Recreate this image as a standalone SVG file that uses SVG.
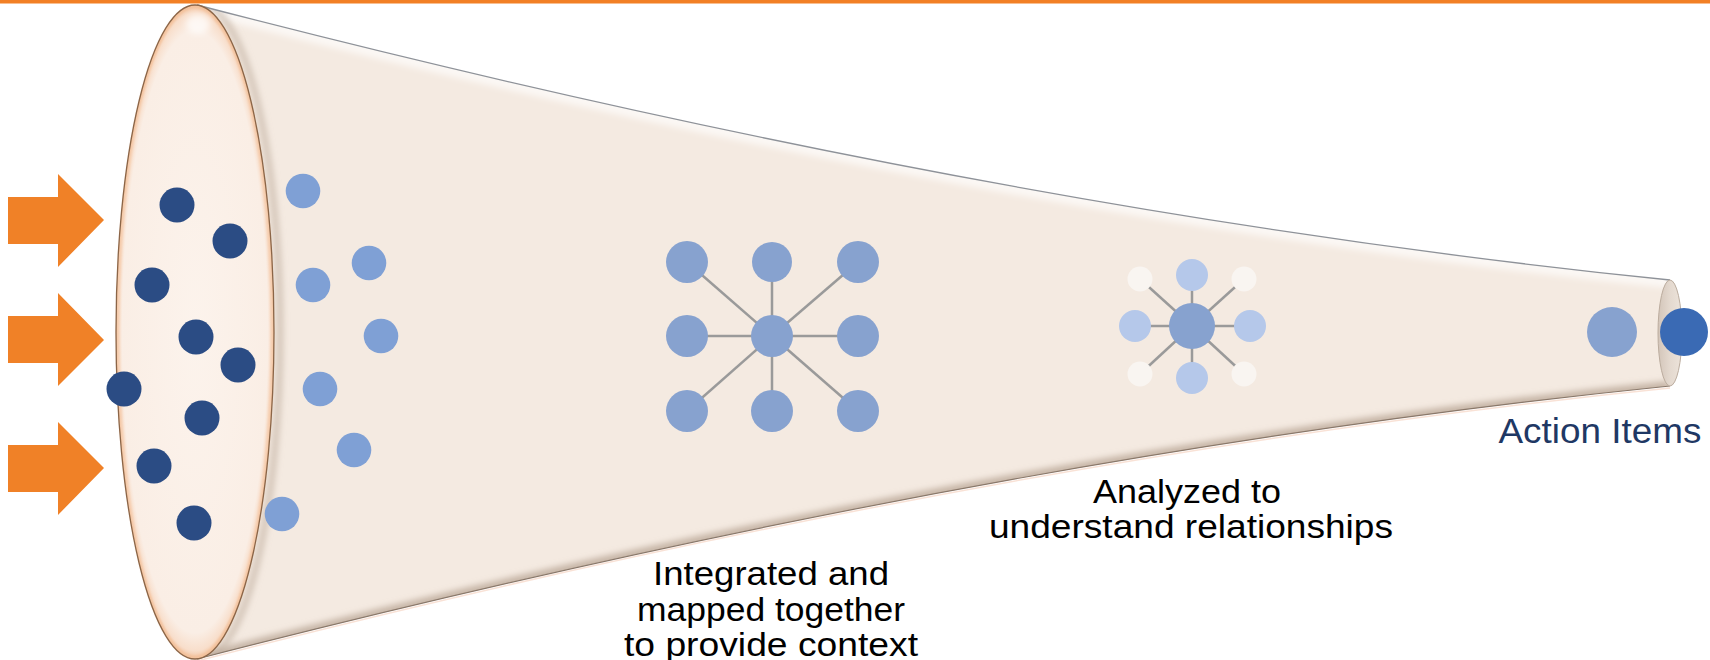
<svg xmlns="http://www.w3.org/2000/svg" width="1710" height="660" viewBox="0 0 1710 660">
  <defs>
    <style>
      .arrow { fill: #F08127; }
      .dark { fill: #2B4C84; }
      .light { fill: #7FA0D5; }
      .node { fill: #87A2CF; }
      .node2 { fill: #B5C8EA; }
      .node3 { fill: #F9F5F1; }
      .link { stroke: #9A9A9A; stroke-width: 2.5; fill: none; }
      .label { font-family: "Liberation Sans", Arial, sans-serif; font-size: 33px; fill: #000000; text-anchor: middle; }
      .action { font-family: "Liberation Sans", Arial, sans-serif; font-size: 35px; fill: #1F3864; text-anchor: middle; }
    </style>
    <radialGradient id="faceGrad" cx="0.5" cy="0.5" r="0.5">
      <stop offset="0" stop-color="#FCF3EC"/>
      <stop offset="0.92" stop-color="#FAEEE5"/>
      <stop offset="0.975" stop-color="#F8DECB"/>
      <stop offset="1" stop-color="#F2C29E"/>
    </radialGradient>
    <linearGradient id="endGrad" x1="0" y1="0" x2="1" y2="0">
      <stop offset="0" stop-color="#D3C5B9"/>
      <stop offset="0.5" stop-color="#E4D9CF"/>
      <stop offset="1" stop-color="#EDE4DB"/>
    </linearGradient>
    <filter id="blur3" x="-20%" y="-20%" width="140%" height="140%">
      <feGaussianBlur stdDeviation="3"/>
    </filter>
    <filter id="blur1" x="-20%" y="-20%" width="140%" height="140%">
      <feGaussianBlur stdDeviation="1.2"/>
    </filter>
    <clipPath id="bodyClip">
      <path d="M197,5 Q989,211 1670,280 L1670,386 Q989,455 197,659 Z"/>
    </clipPath>
  </defs>

  <rect x="0" y="0" width="1710" height="660" fill="#FFFFFF"/>
  <rect id="topbar" x="0" y="0" width="1710" height="3.5" fill="#F28025"/>

  <g id="arrows">
    <polygon class="arrow" points="8,197 58,197 58,174 104,220 58,267 58,244 8,244"/>
    <polygon class="arrow" points="8,316 58,316 58,293 104,340 58,386 58,363 8,363"/>
    <polygon class="arrow" points="8,445 58,445 58,422 104,468 58,515 58,492 8,492"/>
  </g>

  <g id="funnel">
    <path d="M197,5 Q989,211 1670,280 L1670,386 Q989,455 197,659 Z" fill="#F4EAE1"/>
    <g clip-path="url(#bodyClip)">
      <path d="M197,5 Q989,211 1670,280" fill="none" stroke="#FFFFFF" stroke-opacity="0.65" stroke-width="16" filter="url(#blur3)"/>
      <path d="M197,659 Q989,455 1670,386" fill="none" stroke="#B5A292" stroke-opacity="0.75" stroke-width="10" filter="url(#blur3)"/>
      <ellipse cx="201" cy="332" rx="79" ry="327" fill="none" stroke="#B9A696" stroke-opacity="0.6" stroke-width="6" filter="url(#blur3)"/>
    </g>
    <path d="M197,5 Q989,211 1670,280" fill="none" stroke="#8E9299" stroke-width="1.3"/>
    <path d="M197,659 Q989,455 1670,386" fill="none" stroke="#8A786A" stroke-width="1.2"/>
    <path d="M197,661 Q989,457 1670,388" fill="none" stroke="#F6D6C4" stroke-width="1.5" stroke-opacity="0.7"/>
    <ellipse id="end-face" cx="1670" cy="333" rx="12" ry="53" fill="url(#endGrad)" stroke="#BBAC9E" stroke-width="1"/>
  </g>

  <g id="mouth">
    <ellipse cx="195" cy="332" rx="79" ry="327" fill="url(#faceGrad)"/>
    <ellipse cx="195" cy="332" rx="77" ry="325" fill="none" stroke="#F3B78A" stroke-opacity="0.5" stroke-width="2.5" filter="url(#blur1)"/>
    <ellipse cx="198" cy="24" rx="12" ry="10" fill="#FFFFFF" fill-opacity="0.7" filter="url(#blur3)"/>
    <ellipse cx="195" cy="332" rx="79" ry="327" fill="none" stroke="#8B6547" stroke-width="1.3"/>
  </g>

  <g id="raw-data">
    <circle class="dark" cx="177" cy="205" r="17.5"/>
    <circle class="dark" cx="230" cy="241" r="17.5"/>
    <circle class="dark" cx="152" cy="285" r="17.5"/>
    <circle class="dark" cx="196" cy="337" r="17.5"/>
    <circle class="dark" cx="238" cy="365" r="17.5"/>
    <circle class="dark" cx="124" cy="389" r="17.5"/>
    <circle class="dark" cx="202" cy="418" r="17.5"/>
    <circle class="dark" cx="154" cy="466" r="17.5"/>
    <circle class="dark" cx="194" cy="523" r="17.5"/>
  </g>

  <g id="loose-data">
    <circle class="light" cx="303" cy="191" r="17.3"/>
    <circle class="light" cx="369" cy="263" r="17.3"/>
    <circle class="light" cx="313" cy="285" r="17.3"/>
    <circle class="light" cx="381" cy="336" r="17.3"/>
    <circle class="light" cx="320" cy="389" r="17.3"/>
    <circle class="light" cx="354" cy="450" r="17.3"/>
    <circle class="light" cx="282" cy="514" r="17.3"/>
  </g>

  <g id="connectors">
    <g id="links-network1">
      <line class="link" x1="772" y1="336" x2="687" y2="262"/>
      <line class="link" x1="772" y1="336" x2="772" y2="262"/>
      <line class="link" x1="772" y1="336" x2="858" y2="262"/>
      <line class="link" x1="772" y1="336" x2="687" y2="336"/>
      <line class="link" x1="772" y1="336" x2="858" y2="336"/>
      <line class="link" x1="772" y1="336" x2="687" y2="411"/>
      <line class="link" x1="772" y1="336" x2="772" y2="411"/>
      <line class="link" x1="772" y1="336" x2="858" y2="411"/>
    </g>
    <g id="links-network2">
      <line class="link" x1="1192" y1="326" x2="1140" y2="279"/>
      <line class="link" x1="1192" y1="326" x2="1192" y2="275"/>
      <line class="link" x1="1192" y1="326" x2="1244" y2="279"/>
      <line class="link" x1="1192" y1="326" x2="1135" y2="326"/>
      <line class="link" x1="1192" y1="326" x2="1250" y2="326"/>
      <line class="link" x1="1192" y1="326" x2="1140" y2="374"/>
      <line class="link" x1="1192" y1="326" x2="1192" y2="378"/>
      <line class="link" x1="1192" y1="326" x2="1244" y2="374"/>
    </g>
  </g>

  <g id="network1">
    <circle class="node" cx="687" cy="262" r="21"/>
    <circle class="node" cx="772" cy="262" r="20"/>
    <circle class="node" cx="858" cy="262" r="21"/>
    <circle class="node" cx="687" cy="336" r="21"/>
    <circle class="node" cx="772" cy="336" r="21"/>
    <circle class="node" cx="858" cy="336" r="21"/>
    <circle class="node" cx="687" cy="411" r="21"/>
    <circle class="node" cx="772" cy="411" r="21"/>
    <circle class="node" cx="858" cy="411" r="21"/>
  </g>

  <g id="network2">
    <circle class="node3" cx="1140" cy="279" r="12.5"/>
    <circle class="node3" cx="1244" cy="279" r="12.5"/>
    <circle class="node3" cx="1140" cy="374" r="12.5"/>
    <circle class="node3" cx="1244" cy="374" r="12.5"/>
    <circle class="node2" cx="1192" cy="275" r="16"/>
    <circle class="node2" cx="1192" cy="378" r="16"/>
    <circle class="node2" cx="1135" cy="326" r="16"/>
    <circle class="node2" cx="1250" cy="326" r="16"/>
    <circle class="node" cx="1192" cy="326" r="23"/>
  </g>

  <g id="result">
    <circle cx="1612" cy="332" r="25" fill="#87A2CF"/>
    <circle cx="1684" cy="332" r="24" fill="#3A6AB4"/>
  </g>

  <g id="labels">
    <text class="label" x="771" y="585" textLength="236" lengthAdjust="spacingAndGlyphs">Integrated and</text>
    <text class="label" x="771" y="621" textLength="268" lengthAdjust="spacingAndGlyphs">mapped together</text>
    <text class="label" x="771" y="656" textLength="294" lengthAdjust="spacingAndGlyphs">to provide context</text>
    <text class="label" x="1187" y="503" textLength="188" lengthAdjust="spacingAndGlyphs">Analyzed to</text>
    <text class="label" x="1191" y="538" textLength="404" lengthAdjust="spacingAndGlyphs">understand relationships</text>
    <text class="action" x="1600" y="443" textLength="203" lengthAdjust="spacingAndGlyphs">Action Items</text>
  </g>
</svg>
